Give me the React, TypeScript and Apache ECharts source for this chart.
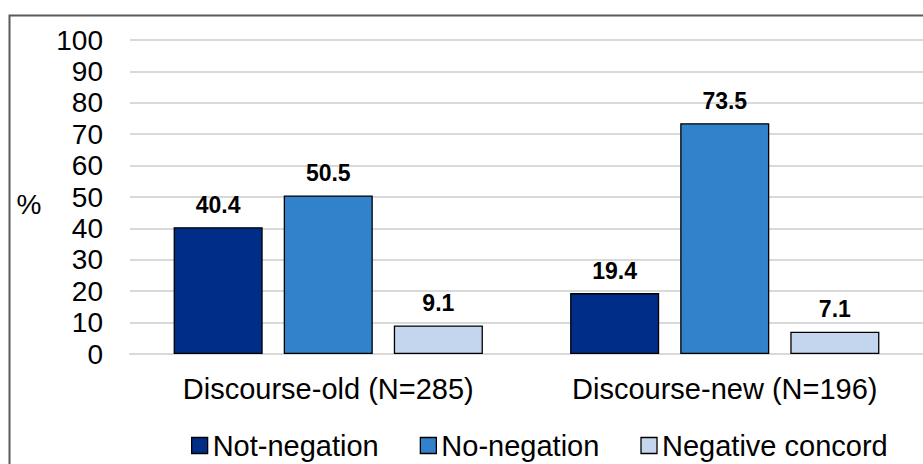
import React, { useEffect, useRef } from "react";
import * as echarts from "echarts";

const categories = ["Discourse-old (N=285)", "Discourse-new (N=196)"];
const seriesNames = ["Not-negation", "No-negation", "Negative concord"];
const notNegation = [40.4, 19.4];
const noNegation = [50.5, 73.5];
const negativeConcord = [9.1, 7.1];
const colors = ["#002D87", "#3282CB", "#C3D6EE"];

export default function App() {
  const ref = useRef<HTMLDivElement>(null);
  useEffect(() => {
    const chart = echarts.init(ref.current!, null, { renderer: "svg" });
    const font = "'Liberation Sans', Arial, sans-serif";
    const mk = (name: string, data: number[], color: string) => ({
      name,
      type: "bar",
      data,
      barGap: "23.6%",
      barCategoryGap: "22%",
      itemStyle: { color, borderColor: "#000", borderWidth: 1.3 },
      label: {
        show: true,
        position: "top",
        distance: 11,
        fontFamily: font,
        fontSize: 23,
        fontWeight: "bold",
        color: "#000",
        formatter: (p: any) => p.value.toFixed(1),
      },
    });
    chart.setOption({
      animation: false,
      textStyle: { fontFamily: font },
      grid: { left: 130, right: 0, top: 40, bottom: 110 },
      legend: {
        top: 426,
        left: 186,
        itemWidth: 16,
        itemHeight: 16,
        itemGap: 41,
        icon: "rect",
        textStyle: { fontFamily: font, fontSize: 29, color: "#000" },
        data: seriesNames.map((n) => ({ name: n, itemStyle: { borderColor: "#000", borderWidth: 1.3 } })),
      },
      graphic: [
        {
          type: "rect",
          shape: { x: 9.5, y: 15.5, width: 930, height: 470 },
          style: { fill: "none", stroke: "#5a5a5a", lineWidth: 2 },
          silent: true,
        },
        {
          type: "text",
          x: 29,
          y: 204,
          style: { text: "%", font: `28px ${font}`, fill: "#000", align: "center", verticalAlign: "middle" },
        },
      ],
      xAxis: {
        type: "category",
        data: categories,
        axisLine: { lineStyle: { color: "#d9d9d9", width: 2 } },
        axisTick: { show: false },
        axisLabel: { interval: 0, margin: 20, fontSize: 29, color: "#000", fontFamily: font },
      },
      yAxis: {
        type: "value",
        min: 0,
        max: 100,
        interval: 10,
        axisLine: { show: false },
        axisTick: { show: false },
        splitLine: { lineStyle: { color: "#d9d9d9", width: 2 } },
        axisLabel: { margin: 27, fontSize: 28, color: "#000", fontFamily: font },
      },
      series: [
        mk(seriesNames[0], notNegation, colors[0]),
        mk(seriesNames[1], noNegation, colors[1]),
        mk(seriesNames[2], negativeConcord, colors[2]),
      ],
    });
    return () => chart.dispose();
  }, []);
  return (
    <div
      ref={ref}
      style={{ position: "fixed", left: 0, top: 0, width: 923, height: 464, background: "#fff" }}
    />
  );
}
